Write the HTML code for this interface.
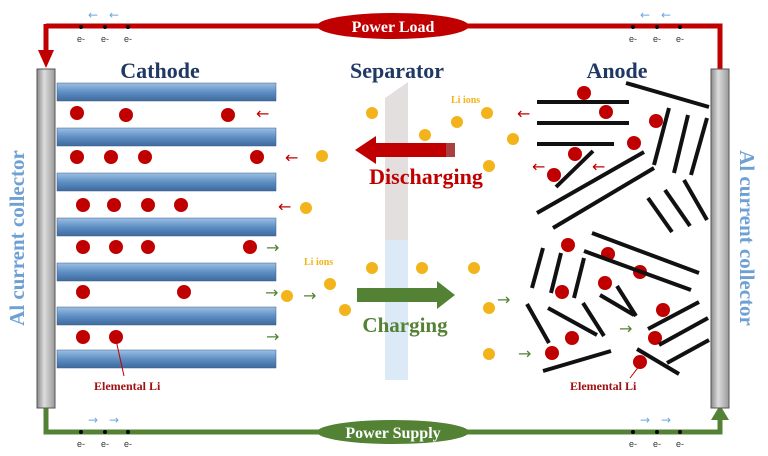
<!DOCTYPE html>
<html><head><meta charset="utf-8"><style>html,body{margin:0;padding:0;background:#fff}svg{display:block}</style></head><body>
<svg width="768" height="456" viewBox="0 0 768 456" xmlns="http://www.w3.org/2000/svg" font-family="Liberation Serif, serif">
<defs>
<linearGradient id="pl" x1="0" y1="0" x2="0" y2="1"><stop offset="0" stop-color="#9dc0e4"/><stop offset="0.5" stop-color="#5e8fc4"/><stop offset="1" stop-color="#3e6a9c"/></linearGradient>
<linearGradient id="col" x1="0" y1="0" x2="1" y2="0"><stop offset="0" stop-color="#888"/><stop offset="0.4" stop-color="#ddd"/><stop offset="1" stop-color="#999"/></linearGradient>
</defs>
<path d="M46 26 H720 V72" stroke="#c00000" stroke-width="5" fill="none"/>
<path d="M46 24 V56" stroke="#c00000" stroke-width="5"/>
<polygon points="38,50 54,50 46,68" fill="#c00000"/>
<ellipse cx="393" cy="26" rx="76" ry="13" fill="#c00000"/>
<text x="393" y="32" font-size="16" font-weight="bold" fill="#fff" text-anchor="middle">Power Load</text>
<path d="M46 405 V432 H720 V418" stroke="#548235" stroke-width="5" fill="none"/>
<polygon points="711,420 729,420 720,405" fill="#548235"/>
<ellipse cx="393" cy="432" rx="76" ry="12" fill="#548235"/>
<text x="393" y="438" font-size="16" font-weight="bold" fill="#fff" text-anchor="middle">Power Supply</text>
<g fill="#6fa8dc" font-size="12" font-family="DejaVu Sans,sans-serif">
<text x="88" y="19">←</text><text x="109" y="19">←</text>
<text x="640" y="19">←</text><text x="661" y="19">←</text>
<text x="88" y="424">→</text><text x="109" y="424">→</text>
<text x="640" y="424">→</text><text x="661" y="424">→</text>
</g>
<g fill="#000"><circle cx="81" cy="27" r="2"/><circle cx="105" cy="27" r="2"/><circle cx="128" cy="27" r="2"/>
<circle cx="633" cy="27" r="2"/><circle cx="657" cy="27" r="2"/><circle cx="680" cy="27" r="2"/>
<circle cx="81" cy="432" r="2"/><circle cx="105" cy="432" r="2"/><circle cx="128" cy="432" r="2"/>
<circle cx="633" cy="432" r="2"/><circle cx="657" cy="432" r="2"/><circle cx="680" cy="432" r="2"/></g>
<g font-size="9" fill="#333" text-anchor="middle" font-family="Liberation Sans,sans-serif">
<text x="81" y="42">e-</text><text x="105" y="42">e-</text><text x="128" y="42">e-</text>
<text x="633" y="42">e-</text><text x="657" y="42">e-</text><text x="680" y="42">e-</text>
<text x="81" y="447">e-</text><text x="105" y="447">e-</text><text x="128" y="447">e-</text>
<text x="633" y="447">e-</text><text x="657" y="447">e-</text><text x="680" y="447">e-</text></g>
<rect x="37" y="69" width="18" height="339" fill="url(#col)" stroke="#555"/>
<rect x="711" y="69" width="18" height="339" fill="url(#col)" stroke="#555"/>
<g font-size="21" font-weight="bold" fill="#6fa0d4">
<text transform="translate(17,238) rotate(-90)" text-anchor="middle" dy="7">Al current collector</text>
<text transform="translate(740,238) rotate(90)" text-anchor="middle">Al current collector</text></g>
<g font-size="22" font-weight="bold" fill="#1f3864" text-anchor="middle">
<text x="160" y="78">Cathode</text><text x="397" y="78">Separator</text><text x="617" y="78">Anode</text></g>
<polygon points="385,98 408,82 408,380 385,380" fill="#e4dfdf"/>
<rect x="385" y="240" width="23" height="140" fill="#dce9f6"/>
<g fill="url(#pl)" stroke="#3a5f8a" stroke-width="0.5">
<rect x="57" y="83" width="219" height="18"/><rect x="57" y="128" width="219" height="18"/>
<rect x="57" y="173" width="219" height="18"/><rect x="57" y="218" width="219" height="18"/>
<rect x="57" y="263" width="219" height="18"/><rect x="57" y="307" width="219" height="18"/>
<rect x="57" y="350" width="219" height="18"/></g>
<g fill="#c00000">
<circle cx="77" cy="113" r="7"/><circle cx="126" cy="115" r="7"/><circle cx="228" cy="115" r="7"/>
<circle cx="77" cy="157" r="7"/><circle cx="111" cy="157" r="7"/><circle cx="145" cy="157" r="7"/><circle cx="257" cy="157" r="7"/>
<circle cx="83" cy="205" r="7"/><circle cx="114" cy="205" r="7"/><circle cx="148" cy="205" r="7"/><circle cx="181" cy="205" r="7"/>
<circle cx="83" cy="247" r="7"/><circle cx="116" cy="247" r="7"/><circle cx="148" cy="247" r="7"/><circle cx="250" cy="247" r="7"/>
<circle cx="83" cy="292" r="7"/><circle cx="184" cy="292" r="7"/>
<circle cx="83" cy="337" r="7"/><circle cx="116" cy="337" r="7"/>
<circle cx="584" cy="93" r="7"/><circle cx="606" cy="112" r="7"/><circle cx="656" cy="121" r="7"/><circle cx="634" cy="143" r="7"/>
<circle cx="575" cy="154" r="7"/><circle cx="554" cy="175" r="7"/><circle cx="568" cy="245" r="7"/><circle cx="608" cy="254" r="7"/>
<circle cx="640" cy="272" r="7"/><circle cx="562" cy="292" r="7"/><circle cx="605" cy="283" r="7"/><circle cx="663" cy="310" r="7"/>
<circle cx="572" cy="338" r="7"/><circle cx="655" cy="338" r="7"/><circle cx="552" cy="353" r="7"/><circle cx="640" cy="362" r="7"/>
</g>
<g fill="#f2b41a">
<circle cx="372" cy="113" r="6"/><circle cx="425" cy="135" r="6"/><circle cx="457" cy="122" r="6"/><circle cx="487" cy="113" r="6"/>
<circle cx="513" cy="139" r="6"/><circle cx="489" cy="166" r="6"/><circle cx="443" cy="150" r="6"/><circle cx="322" cy="156" r="6"/>
<circle cx="306" cy="208" r="6"/><circle cx="287" cy="296" r="6"/><circle cx="330" cy="284" r="6"/><circle cx="345" cy="310" r="6"/>
<circle cx="372" cy="268" r="6"/><circle cx="422" cy="268" r="6"/><circle cx="474" cy="268" r="6"/><circle cx="489" cy="308" r="6"/><circle cx="489" cy="354" r="6"/>
</g>
<g fill="#c00000" font-size="16" font-family="DejaVu Sans,sans-serif">
<text x="256" y="119">←</text><text x="285" y="163">←</text><text x="278" y="212">←</text>
<text x="517" y="119">←</text><text x="532" y="172">←</text><text x="592" y="172">←</text></g>
<g fill="#548235" font-size="16" font-family="DejaVu Sans,sans-serif">
<text x="266" y="253">→</text><text x="265" y="298">→</text><text x="266" y="342">→</text>
<text x="303" y="301">→</text><text x="497" y="305">→</text><text x="518" y="359">→</text><text x="619" y="334">→</text></g>
<polygon points="355,150 376,136 376,143 455,143 455,157 376,157 376,164" fill="#c00000"/>
<rect x="446" y="143" width="9" height="14" fill="#a84040"/>
<text x="426" y="184" font-size="22" font-weight="bold" fill="#c00000" text-anchor="middle">Discharging</text>
<polygon points="357,288 437,288 437,281 455,295 437,309 437,302 357,302" fill="#548235"/>
<text x="405" y="332" font-size="21" font-weight="bold" fill="#548235" text-anchor="middle">Charging</text>
<g font-size="10" font-weight="bold" fill="#f2b41a"><text x="451" y="103">Li ions</text><text x="304" y="265">Li ions</text></g>
<g stroke="#111" stroke-width="4" stroke-linecap="butt">
<line x1="537" y1="102" x2="629" y2="102"/><line x1="537" y1="123" x2="629" y2="123"/><line x1="537" y1="144" x2="614" y2="144"/>
<line x1="626" y1="83" x2="709" y2="107"/><line x1="556" y1="187" x2="593" y2="151"/><line x1="537" y1="213" x2="644" y2="152"/>
<line x1="553" y1="228" x2="654" y2="168"/><line x1="669" y1="108" x2="654" y2="165"/><line x1="688" y1="115" x2="674" y2="173"/>
<line x1="707" y1="118" x2="691" y2="175"/><line x1="684" y1="180" x2="707" y2="220"/><line x1="665" y1="190" x2="690" y2="226"/>
<line x1="648" y1="198" x2="672" y2="232"/>
<line x1="543" y1="248" x2="532" y2="288"/><line x1="561" y1="253" x2="551" y2="293"/><line x1="584" y1="258" x2="574" y2="298"/>
<line x1="592" y1="233" x2="699" y2="273"/><line x1="584" y1="251" x2="691" y2="290"/><line x1="527" y1="304" x2="549" y2="343"/>
<line x1="548" y1="308" x2="597" y2="335"/><line x1="583" y1="303" x2="604" y2="336"/><line x1="600" y1="295" x2="634" y2="315"/>
<line x1="617" y1="286" x2="636" y2="316"/><line x1="648" y1="329" x2="699" y2="302"/><line x1="659" y1="345" x2="708" y2="318"/>
<line x1="667" y1="363" x2="709" y2="340"/><line x1="543" y1="371" x2="611" y2="351"/><line x1="637" y1="349" x2="679" y2="374"/>
</g>
<line x1="116" y1="340" x2="124" y2="376" stroke="#c00000"/>
<line x1="640" y1="365" x2="630" y2="378" stroke="#c00000"/>
<g font-size="12" font-weight="bold" fill="#a01010"><text x="94" y="390">Elemental Li</text><text x="570" y="390">Elemental Li</text></g>
</svg>
</body></html>
